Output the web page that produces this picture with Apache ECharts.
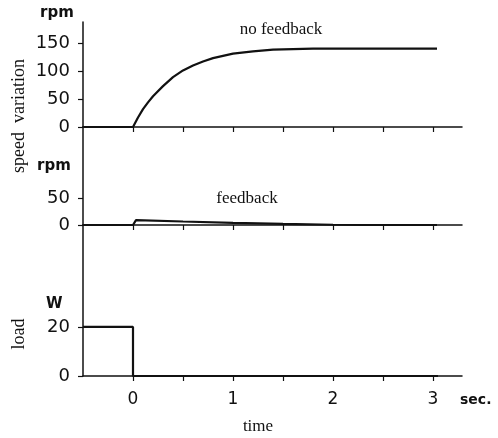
<!DOCTYPE html>
<html>
<head>
<meta charset="utf-8">
<script src="https://cdn.jsdelivr.net/npm/echarts@6/dist/echarts.min.js"></script>
<style>
  html, body { margin: 0; padding: 0; background: #fff; }
  #chart { width: 498px; height: 438px; }
</style>
</head>
<body>
<div id="chart"></div>
<script>
// time in seconds
var noFeedback = [
  [-0.5, 0], [0, 0], [0.05, 17], [0.1, 32], [0.15, 44], [0.2, 55], [0.3, 73],
  [0.4, 89], [0.5, 101], [0.6, 110], [0.7, 117], [0.8, 123], [0.9, 127],
  [1.0, 131], [1.2, 135], [1.4, 138], [1.6, 139], [1.8, 140], [2.0, 140],
  [2.5, 140], [3.04, 140]
];
var feedback = [
  [-0.5, 0], [0, 0], [0.03, 9], [0.5, 6.5], [1.0, 4], [1.5, 2], [2.0, 0.5],
  [2.5, 0], [3.04, 0]
];
var load = [[-0.5, 20], [0, 20], [0, 0], [3.05, 0]];

var xTicks = [0, 0.5, 1, 1.5, 2, 2.5, 3];
var xLabels = [0, 1, 2, 3];
var rpmTicksTop = [0, 50, 100, 150];
var rpmTicksMid = [0, 50];
var loadTicks = [0, 20];

var ink = '#111';
var sansFont = 'DejaVu Sans';
var serifFont = 'Liberation Serif';

function xAxis(idx, showLabels) {
  return {
    type: 'value', gridIndex: idx, min: -0.5, max: 3.29,
    axisLine: { show: true, onZero: false, lineStyle: { color: ink, width: 1.5 } },
    axisTick: { show: true, length: 5, customValues: xTicks, lineStyle: { color: ink, width: 1.2 } },
    axisLabel: {
      show: showLabels, customValues: xLabels, margin: 15,
      color: ink, fontFamily: sansFont, fontSize: 17
    },
    splitLine: { show: false }
  };
}

function yAxis(idx, max, ticks) {
  return {
    type: 'value', gridIndex: idx, min: 0, max: max,
    axisLine: { show: true, onZero: false, lineStyle: { color: ink, width: 1.5 } },
    axisTick: { show: true, length: 5, customValues: ticks, lineStyle: { color: ink, width: 1.2 } },
    axisLabel: {
      customValues: ticks, margin: 13,
      color: ink, fontFamily: sansFont, fontSize: 18
    },
    splitLine: { show: false }
  };
}

function lineSeries(idx, data) {
  return {
    type: 'line', xAxisIndex: idx, yAxisIndex: idx, data: data,
    showSymbol: false, symbol: 'none', animation: false,
    lineStyle: { color: ink, width: 2.2 }
  };
}

var chart = echarts.init(document.getElementById('chart'));
chart.setOption({
  backgroundColor: '#fff',
  animation: false,
  grid: [
    { left: 83, top: 22, width: 379, height: 105 },
    { left: 83, top: 127, width: 379, height: 98 },
    { left: 83, top: 225, width: 379, height: 151 }
  ],
  xAxis: [xAxis(0, false), xAxis(1, false), xAxis(2, true)],
  yAxis: [
    yAxis(0, 187.5, rpmTicksTop),
    yAxis(1, 181.5, rpmTicksMid),
    yAxis(2, 61.6, loadTicks)
  ],
  series: [
    lineSeries(0, noFeedback),
    lineSeries(1, feedback),
    lineSeries(2, load)
  ],
  graphic: [
    { type: 'text', left: 40, top: 6, style: { text: 'rpm', fill: ink, font: 'bold 15px ' + sansFont } },
    { type: 'text', left: 37, top: 159, style: { text: 'rpm', fill: ink, font: 'bold 15px ' + sansFont } },
    { type: 'text', left: 46, top: 297, style: { text: 'W', fill: ink, font: 'bold 15px ' + sansFont } },
    { type: 'text', left: 460, top: 393, style: { text: 'sec.', fill: ink, font: 'bold 14px ' + sansFont } },
    { type: 'text', x: 281, y: 30, style: { text: 'no feedback', fill: ink, font: '17px ' + serifFont, align: 'center', verticalAlign: 'middle' } },
    { type: 'text', x: 247, y: 199, style: { text: 'feedback', fill: ink, font: '17px ' + serifFont, align: 'center', verticalAlign: 'middle' } },
    { type: 'text', x: 258, y: 427, style: { text: 'time', fill: ink, font: '17px ' + serifFont, align: 'center', verticalAlign: 'middle' } },
    { type: 'text', x: 19, y: 116, rotation: Math.PI / 2, style: { text: 'speed  variation', fill: ink, font: '18px ' + serifFont, align: 'center', verticalAlign: 'middle' } },
    { type: 'text', x: 19, y: 334, rotation: Math.PI / 2, style: { text: 'load', fill: ink, font: '18px ' + serifFont, align: 'center', verticalAlign: 'middle' } }
  ]
});
</script>
</body>
</html>
